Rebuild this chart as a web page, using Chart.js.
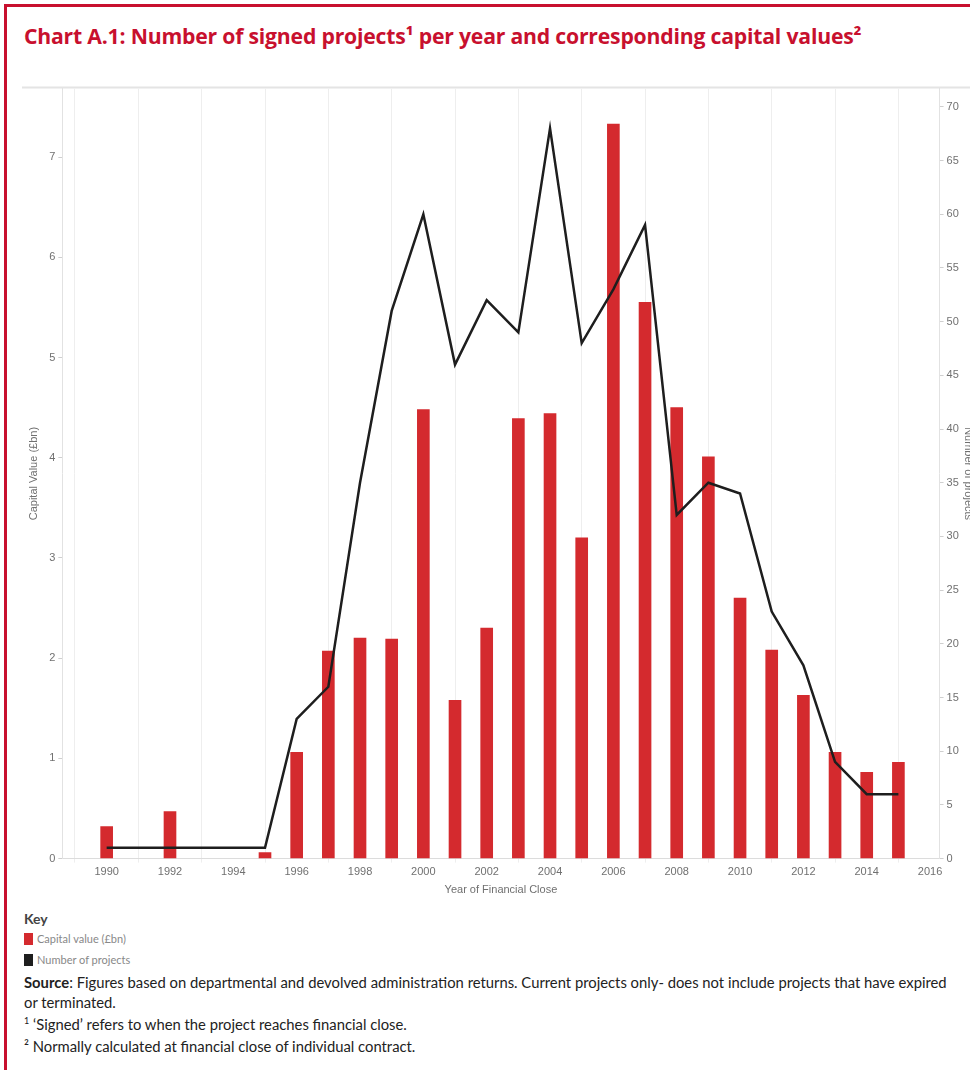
<!DOCTYPE html>
<html>
<head>
<meta charset="utf-8">
<title>Chart A.1</title>
<script src="https://cdn.jsdelivr.net/npm/chart.js@4.4.1/dist/chart.umd.min.js"></script>
<style>
  body {
    margin: 0;
    width: 970px;
    height: 1070px;
    overflow: hidden;
    position: relative;
    background: #fff;
    font-family: Lato, "Open Sans", sans-serif;
  }
  .frame {
    position: absolute;
    left: 4px;
    top: 4px;
    right: -10px;
    bottom: -10px;
    border-top: 3px solid #c8102e;
    border-left: 3px solid #c8102e;
  }
  h1 {
    position: absolute;
    left: 24px;
    top: 23px;
    margin: 0;
    font-family: "Open Sans", Lato, sans-serif;
    font-size: 21.2px;
    line-height: 26px;
    font-weight: 700;
    letter-spacing: -0.2px;
    color: #c8102e;
  }
  .chart-box {
    position: absolute;
    left: 22px;
    top: 79px;
  }
  .key {
    position: absolute;
    left: 24px;
    top: 910px;
    width: 925px;
    color: #222;
  }
  .key h2 {
    margin: 0;
    font-size: 14px;
    font-weight: 700;
    color: #444;
    line-height: 18px;
  }
  .key .item {
    font-size: 11px;
    color: #888;
    line-height: 21px;
    height: 21px;
  }
  .key .swatch {
    display: inline-block;
    width: 9px;
    height: 12px;
    margin-right: 4px;
    vertical-align: -2px;
  }
  .notes {
    margin-top: 2px;
  }
  .notes p {
    margin: 0;
    font-size: 14.8px;
    line-height: 20px;
  }
  .notes p + p {
    margin-top: 2px;
  }
  .notes sup {
    font-size: 9px;
    line-height: 0;
  }
</style>
</head>
<body>
<div class="frame"></div>
<h1>Chart A.1: Number of signed projects¹ per year and corresponding capital values²</h1>
<div class="chart-box">
  <canvas id="projectsChart" width="955" height="818"></canvas>
</div>
<div class="key">
  <h2>Key</h2>
  <div id="keyItems"></div>
  <div class="notes">
    <p><b>Source</b>: Figures based on departmental and devolved administration returns. Current projects only- does not include projects that have expired or terminated.</p>
    <p><sup>1</sup> ‘Signed’ refers to when the project reaches financial close.</p>
    <p>² Normally calculated at financial close of individual contract.</p>
  </div>
</div>

<script>
// year of financial close
const years = [1990, 1992, 1995, 1996, 1997, 1998, 1999, 2000, 2001, 2002, 2003, 2004,
               2005, 2006, 2007, 2008, 2009, 2010, 2011, 2012, 2013, 2014, 2015];

// capital value signed in each year (£bn)
const capitalValues = [0.32, 0.47, 0.06, 1.06, 2.07, 2.20, 2.19, 4.48, 1.58, 2.30, 4.39, 4.44,
                       3.20, 7.33, 5.55, 4.50, 4.01, 2.60, 2.08, 1.63, 1.06, 0.86, 0.96];

// number of projects signed in each year
const projectCounts = [1, 1, 1, 13, 16, 35, 51, 60, 46, 52, 49, 68,
                       48, 53, 59, 32, 35, 34, 23, 18, 9, 6, 6];

// axis ticks
const yearTicks = [1990, 1992, 1994, 1996, 1998, 2000, 2002, 2004, 2006, 2008, 2010, 2012, 2014, 2016];
const capitalTicks = [0, 1, 2, 3, 4, 5, 6, 7];
const countTicks = [0, 5, 10, 15, 20, 25, 30, 35, 40, 45, 50, 55, 60, 65, 70];

const seriesNames = ['Capital value (£bn)', 'Number of projects'];
const seriesColors = ['#d42a2e', '#1e1e1e'];

const tickFont = { family: '"Liberation Sans", Arial, sans-serif', size: 11 };
const tickColor = '#707070';

// key below the chart
const keyItems = document.getElementById('keyItems');
seriesNames.forEach((name, i) => {
    const row = document.createElement('div');
    row.className = 'item';
    row.innerHTML = '<span class="swatch" style="background:' + seriesColors[i] + '"></span>' + name;
    keyItems.appendChild(row);
});

// light rule along the top of the plot, running the full width
const topRule = {
    id: 'topRule',
    beforeDraw(chart) {
        const { ctx, chartArea } = chart;
        ctx.save();
        ctx.strokeStyle = '#e4e4e4';
        ctx.lineWidth = 2;
        ctx.beginPath();
        ctx.moveTo(0, chartArea.top - 1);
        ctx.lineTo(chart.width, chartArea.top - 1);
        ctx.stroke();
        ctx.restore();
    }
};

const ctx = document.getElementById('projectsChart').getContext('2d');

new Chart(ctx, {
    type: 'bar',
    data: {
        datasets: [
            {
                type: 'line',
                label: seriesNames[1],
                data: years.map((y, i) => ({ x: y, y: projectCounts[i] })),
                borderColor: seriesColors[1],
                borderWidth: 2.5,
                pointRadius: 0,
                tension: 0,
                yAxisID: 'y1',
                order: 1,
            },
            {
                label: seriesNames[0],
                data: years.map((y, i) => ({ x: y, y: capitalValues[i] })),
                backgroundColor: seriesColors[0],
                barThickness: 12,
                yAxisID: 'y',
                order: 2,
            },
        ],
    },
    options: {
        responsive: false,
        animation: false,
        layout: {
            padding: { top: 9, left: 5, right: 0, bottom: 0 },
        },
        plugins: {
            legend: { display: false },
            tooltip: { enabled: false },
        },
        scales: {
            x: {
                type: 'linear',
                min: 1988.6,
                max: 2016.3,
                offset: false,
                afterBuildTicks: (axis) => {
                    axis.ticks = yearTicks.map((v) => ({ value: v }));
                },
                ticks: {
                    color: tickColor,
                    font: tickFont,
                    maxRotation: 0,
                    autoSkip: false,
                    padding: 3,
                    callback: (value) => String(value),
                },
                grid: {
                    color: '#eeeeee',
                    tickLength: 4,
                },
                border: { color: '#dcdcdc' },
                title: {
                    display: true,
                    text: 'Year of Financial Close',
                    color: tickColor,
                    font: tickFont,
                    padding: { top: 2, bottom: 0 },
                },
            },
            y: {
                position: 'left',
                min: 0,
                max: 7.684,
                afterBuildTicks: (axis) => {
                    axis.ticks = capitalTicks.map((v) => ({ value: v }));
                },
                ticks: {
                    color: tickColor,
                    font: tickFont,
                    padding: 3,
                },
                grid: {
                    drawOnChartArea: false,
                    color: '#cfcfcf',
                    tickLength: 4,
                },
                border: { color: '#e2e2e2' },
                title: {
                    display: true,
                    text: 'Capital Value (£bn)',
                    color: tickColor,
                    font: tickFont,
                    padding: { top: 0, bottom: 6 },
                },
            },
            y1: {
                position: 'right',
                min: 0,
                max: 71.7,
                afterBuildTicks: (axis) => {
                    axis.ticks = countTicks.map((v) => ({ value: v }));
                },
                ticks: {
                    color: tickColor,
                    font: tickFont,
                    padding: 3,
                },
                grid: {
                    drawOnChartArea: false,
                    color: '#cfcfcf',
                    tickLength: 4,
                },
                border: { color: '#e2e2e2' },
                title: {
                    display: true,
                    text: 'Number of projects',
                    color: tickColor,
                    font: tickFont,
                    padding: { top: 2, bottom: 0 },
                },
            },
        },
    },
    plugins: [topRule],
});
</script>
</body>
</html>
